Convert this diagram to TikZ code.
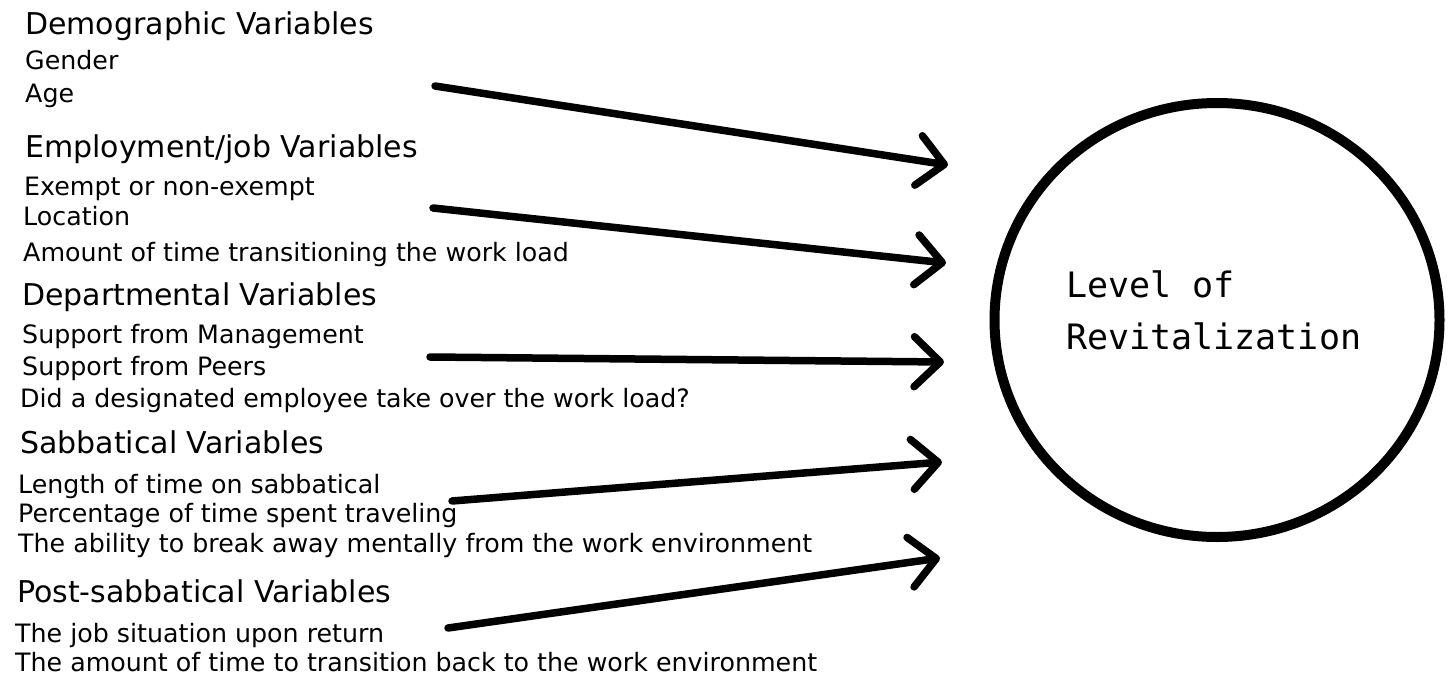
\documentclass[tikz,border=0pt]{standalone}
\usepackage{fontspec}
\setmainfont{DejaVu Sans}
\newfontfamily\monofam{DejaVu Sans Mono}
\usepackage{tikz}
\usetikzlibrary{arrows.meta}
\usetikzlibrary{shapes.geometric}

\begin{document}
\begin{tikzpicture}[x=1pt,y=-1pt,
      vhead/.style={anchor=base west,inner sep=0pt,font=\fontsize{30}{32}\selectfont},
      vitem/.style={anchor=base west,inner sep=0pt,font=\fontsize{25.3}{27}\selectfont},
      feed/.style={line width=7.5pt,line cap=round,-{Straight Barb[length=26pt,width=50pt,round]}},
    ]
        \useasboundingbox (0,0) rectangle (1448,685);

        % groups of variables
        \node[vhead] (dem) at (25,35) {Demographic Variables};
        \node[vitem] (dem1) at (25,70) {Gender};
        \node[vitem] (dem2) at (25,102) {Age};
        \node[vhead] (emp) at (25,157) {Employment/job Variables};
        \node[vitem] (emp1) at (24,195) {Exempt or non-exempt};
        \node[vitem] (emp2) at (23,225) {Location};
        \node[vitem] (emp3) at (23,261) {Amount of time transitioning the work load};
        \node[vhead] (dep) at (22,305) {Departmental Variables};
        \node[vitem] (dep1) at (22,343) {Support from Management};
        \node[vitem] (dep2) at (22,375) {Support from Peers};
        \node[vitem] (dep3) at (20,407) {Did a designated employee take over the work load?};
        \node[vhead] (sab) at (20,453) {Sabbatical Variables};
        \node[vitem] (sab1) at (18,493) {Length of time on sabbatical};
        \node[vitem] (sab2) at (18,522) {Percentage of time spent traveling};
        \node[vitem] (sab3) at (18,552) {The ability to break away mentally from the work environment};
        \node[vhead] (post) at (17,602) {Post-sabbatical Variables};
        \node[vitem] (post1) at (15,642) {The job situation upon return};
        \node[vitem] (post2) at (15,671) {The amount of time to transition back to the work environment};

        % outcome
        \node[ellipse,draw,line width=10pt,minimum width=445pt,minimum height=434pt,inner sep=0pt] (rev) at (1217,320) {};
        \node[anchor=base west,inner sep=0pt,align=left,font=\monofam\fontsize{35}{52}\selectfont] (revtxt) at (1066,349) {Level of\\Revitalization};

        % arrows
        \coordinate (s1) at (435,86);  \coordinate (t1) at (948,165);
        \coordinate (s2) at (433,208); \coordinate (t2) at (946,263);
        \coordinate (s3) at (430,357); \coordinate (t3) at (944,362);
        \coordinate (s4) at (452,501); \coordinate (t4) at (942,462);
        \coordinate (s5) at (448,628); \coordinate (t5) at (940,558);
        \foreach \i in {1,...,5}
            \draw[feed] (s\i) -- (t\i);
    \end{tikzpicture}
\end{document}
